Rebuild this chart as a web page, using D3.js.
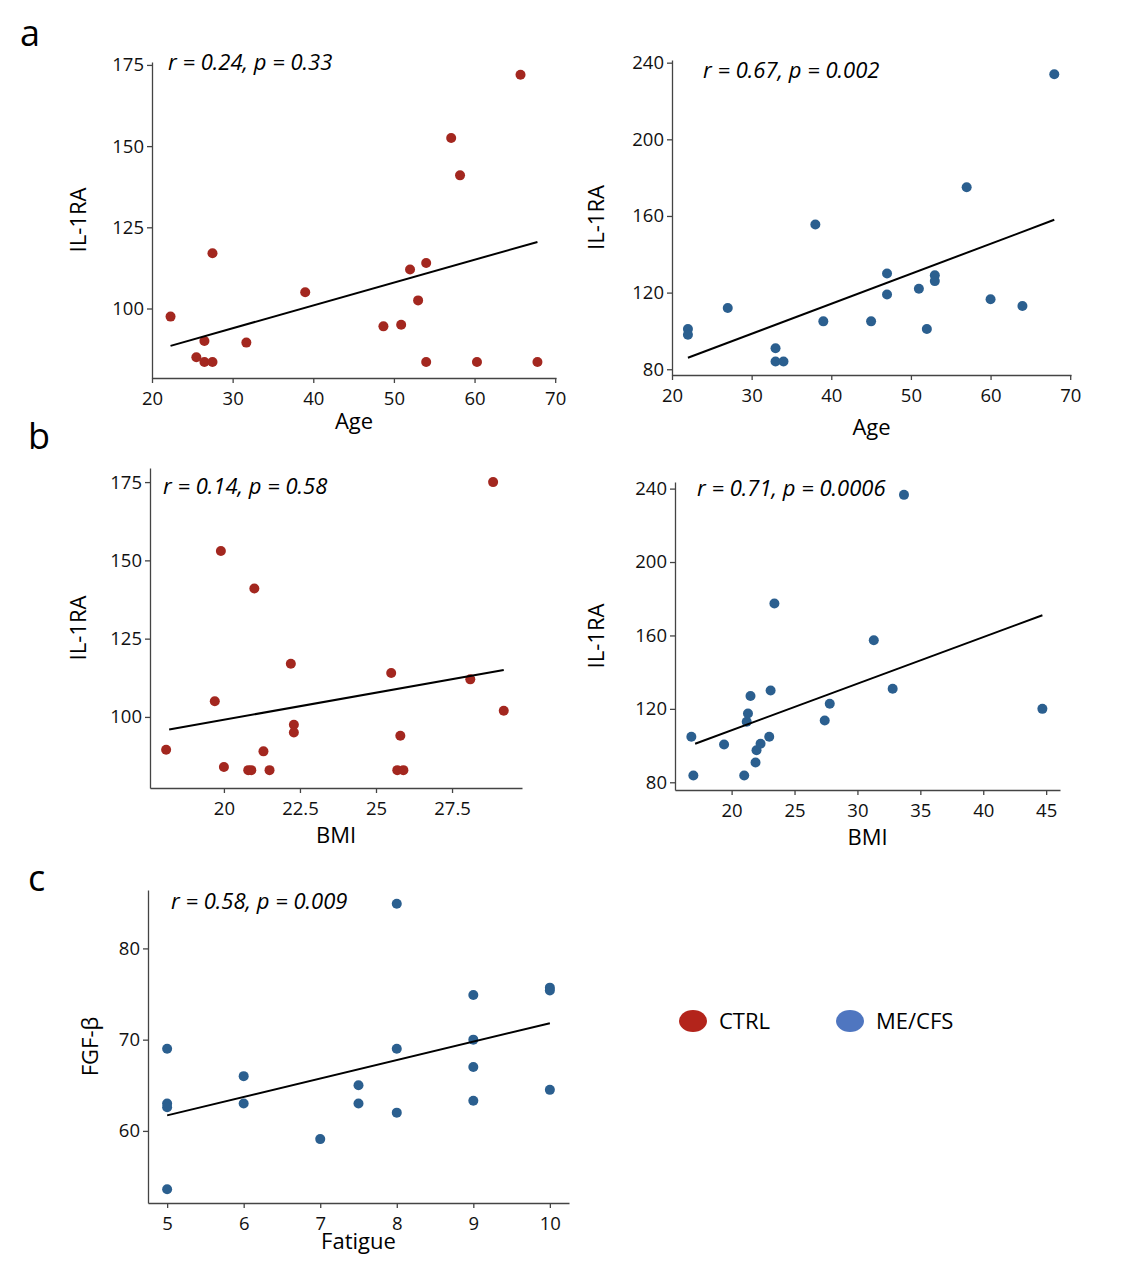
<!DOCTYPE html>
<html>
<head>
<meta charset="utf-8">
<script src="https://cdn.jsdelivr.net/npm/d3@7"></script>
<style>
  body { margin: 0; background: #fff; }
  text { font-family: "Open Sans", Lato, sans-serif; }
</style>
</head>
<body>
<svg id="fig" width="1124" height="1276"></svg>
<script>
// a-left: CTRL, Age vs IL-1RA
let ageCtrl = [22.3, 25.5, 26.5, 26.5, 27.5, 27.5, 31.7, 39, 48.7, 50.9, 52, 53, 54, 54, 57.1, 58.2, 60.3, 65.7, 67.8];
let il1raAgeCtrl = [97.5, 85, 90, 83.5, 83.5, 117, 89.5, 105, 94.5, 95, 112, 102.5, 114, 83.5, 152.5, 141, 83.5, 172, 83.5];
let fitAgeCtrl = [[22.3, 88.5], [67.8, 120.5]];

// a-right: ME/CFS, Age vs IL-1RA
let agePat = [22, 22, 27, 33, 33, 34, 38, 39, 45, 47, 47, 51, 52, 53, 53, 57, 60, 64, 68];
let il1raAgePat = [101, 98, 112, 91, 84, 84, 155.5, 105, 105, 130, 119, 122, 101, 129, 126, 175, 116.5, 113, 234];
let fitAgePat = [[22, 86], [68, 158]];

// b-left: CTRL, BMI vs IL-1RA
let bmiCtrl = [18.1, 19.7, 19.9, 20.0, 20.8, 20.9, 21.0, 21.3, 21.5, 22.2, 22.3, 22.3, 25.5, 25.8, 25.7, 25.9, 28.1, 28.85, 29.2];
let il1raBmiCtrl = [89.5, 105, 153, 84, 83, 83, 141, 89, 83, 117, 97.5, 95, 114, 94, 83, 83, 112, 175, 102];
let fitBmiCtrl = [[18.2, 96], [29.2, 115]];

// b-right: ME/CFS, BMI vs IL-1RA
let bmiPat = [16.8, 16.96, 19.4, 21.0, 21.2, 21.3, 21.5, 21.9, 21.98, 22.3, 22.99, 23.1, 23.4, 27.4, 27.8, 31.3, 32.8, 33.7, 44.7];
let il1raBmiPat = [104.8, 83.7, 100.6, 83.7, 113, 117.5, 127, 90.8, 97.5, 101, 104.8, 130, 177.4, 113.7, 122.8, 157.4, 131, 236.6, 120];
let fitBmiPat = [[17.1, 101], [44.7, 171]];

// c: ME/CFS, Fatigue vs FGF-beta
let fatigue = [5, 5, 5, 5, 6, 6, 7, 7.5, 7.5, 8, 8, 8, 9, 9, 9, 9, 10, 10, 10];
let fgfb = [69, 63, 62.6, 53.6, 66, 63, 59.1, 65, 63, 84.9, 69, 62, 74.9, 70, 67, 63.3, 75.7, 75.4, 64.5];
let fitFatigue = [[5, 61.7], [10, 71.8]];

let ctrlColor = "#a3271f";
let patColor = "#2b5f8f";

let svg = d3.select("#fig");

function drawPanel(o) {
    let x = d3.scaleLinear().domain(o.xDomain).range([o.left, o.right]);
    let y = d3.scaleLinear().domain(o.yDomain).range([o.bottom, o.top]);
    let g = svg.append("g");

    let xa = g.append("g")
        .attr("transform", "translate(0," + o.bottom + ")")
        .call(d3.axisBottom(x).tickValues(o.xTicks).tickSize(5).tickSizeOuter(0).tickFormat(d3.format("")));
    let ya = g.append("g")
        .attr("transform", "translate(" + o.left + ",0)")
        .call(d3.axisLeft(y).tickValues(o.yTicks).tickSize(5).tickSizeOuter(0).tickFormat(d3.format("")));
    [xa, ya].forEach(a => {
        a.attr("font-size", null);
        a.selectAll("path, line").attr("stroke", "#444").attr("stroke-width", 1.3);
        a.selectAll("text").style("font-size", "18.5px").attr("fill", "#111");
    });
    xa.selectAll("text").attr("dy", "1.0em");

    let pts = o.xs.map((v, i) => ({x: v, y: o.ys[i]}));
    g.selectAll("circle").data(pts).enter().append("circle")
        .attr("cx", d => x(d.x))
        .attr("cy", d => y(d.y))
        .attr("r", 5)
        .attr("fill", o.color);

    g.append("line")
        .attr("x1", x(o.fit[0][0])).attr("y1", y(o.fit[0][1]))
        .attr("x2", x(o.fit[1][0])).attr("y2", y(o.fit[1][1]))
        .attr("stroke", "#000").attr("stroke-width", 2);

    g.append("text")
        .attr("x", o.note[0]).attr("y", o.note[1])
        .attr("font-size", 22).attr("font-style", "italic")
        .text(o.noteText);

    g.append("text")
        .attr("x", (o.left + o.right) / 2).attr("y", o.xLabelY)
        .attr("text-anchor", "middle").attr("font-size", 22)
        .text(o.xLabel);

    g.append("text")
        .attr("transform", "translate(" + o.yLabelX + "," + ((o.top + o.bottom) / 2) + ") rotate(-90)")
        .attr("text-anchor", "middle").attr("font-size", 22)
        .text(o.yLabel);
}

drawPanel({xs: ageCtrl, ys: il1raAgeCtrl, fit: fitAgeCtrl, color: ctrlColor,
    left: 152, right: 556, top: 62, bottom: 378,
    xDomain: [20, 70.1], yDomain: [78.6, 175.9],
    xTicks: [20, 30, 40, 50, 60, 70], yTicks: [100, 125, 150, 175],
    note: [168, 70], noteText: "r = 0.24, p = 0.33",
    xLabel: "Age", xLabelY: 429, yLabel: "IL-1RA", yLabelX: 86});

drawPanel({xs: agePat, ys: il1raAgePat, fit: fitAgePat, color: patColor,
    left: 672, right: 1071, top: 60, bottom: 375,
    xDomain: [20, 70.1], yDomain: [77, 241.4],
    xTicks: [20, 30, 40, 50, 60, 70], yTicks: [80, 120, 160, 200, 240],
    note: [703, 78], noteText: "r = 0.67, p = 0.002",
    xLabel: "Age", xLabelY: 435, yLabel: "IL-1RA", yLabelX: 604});

drawPanel({xs: bmiCtrl, ys: il1raBmiCtrl, fit: fitBmiCtrl, color: ctrlColor,
    left: 150, right: 522, top: 468, bottom: 788,
    xDomain: [17.57, 29.8], yDomain: [77.3, 179.5],
    xTicks: [20, 22.5, 25, 27.5], yTicks: [100, 125, 150, 175],
    note: [163, 494], noteText: "r = 0.14, p = 0.58",
    xLabel: "BMI", xLabelY: 843, yLabel: "IL-1RA", yLabelX: 86});

drawPanel({xs: bmiPat, ys: il1raBmiPat, fit: fitBmiPat, color: patColor,
    left: 675, right: 1060, top: 482, bottom: 790,
    xDomain: [15.5, 46.1], yDomain: [75.8, 243.6],
    xTicks: [20, 25, 30, 35, 40, 45], yTicks: [80, 120, 160, 200, 240],
    note: [697, 496], noteText: "r = 0.71, p = 0.0006",
    xLabel: "BMI", xLabelY: 845, yLabel: "IL-1RA", yLabelX: 604});

drawPanel({xs: fatigue, ys: fgfb, fit: fitFatigue, color: patColor,
    left: 148, right: 569, top: 890, bottom: 1203,
    xDomain: [4.75, 10.25], yDomain: [52.1, 86.4],
    xTicks: [5, 6, 7, 8, 9, 10], yTicks: [60, 70, 80],
    note: [171, 909], noteText: "r = 0.58, p = 0.009",
    xLabel: "Fatigue", xLabelY: 1249, yLabel: "FGF-β", yLabelX: 98});

// panel letters
[["a", 20, 46], ["b", 28, 449], ["c", 28, 891]].forEach(l => {
    svg.append("text").attr("x", l[1]).attr("y", l[2]).attr("font-size", 36).text(l[0]);
});

// legend
let legend = [["CTRL", "#b3241b", 693], ["ME/CFS", "#4f76c0", 850]];
legend.forEach(l => {
    svg.append("ellipse").attr("cx", l[2]).attr("cy", 1021).attr("rx", 14).attr("ry", 11).attr("fill", l[1]);
    svg.append("text").attr("x", l[2] + 26).attr("y", 1029).attr("font-size", 22).text(l[0]);
});
</script>
</body>
</html>
